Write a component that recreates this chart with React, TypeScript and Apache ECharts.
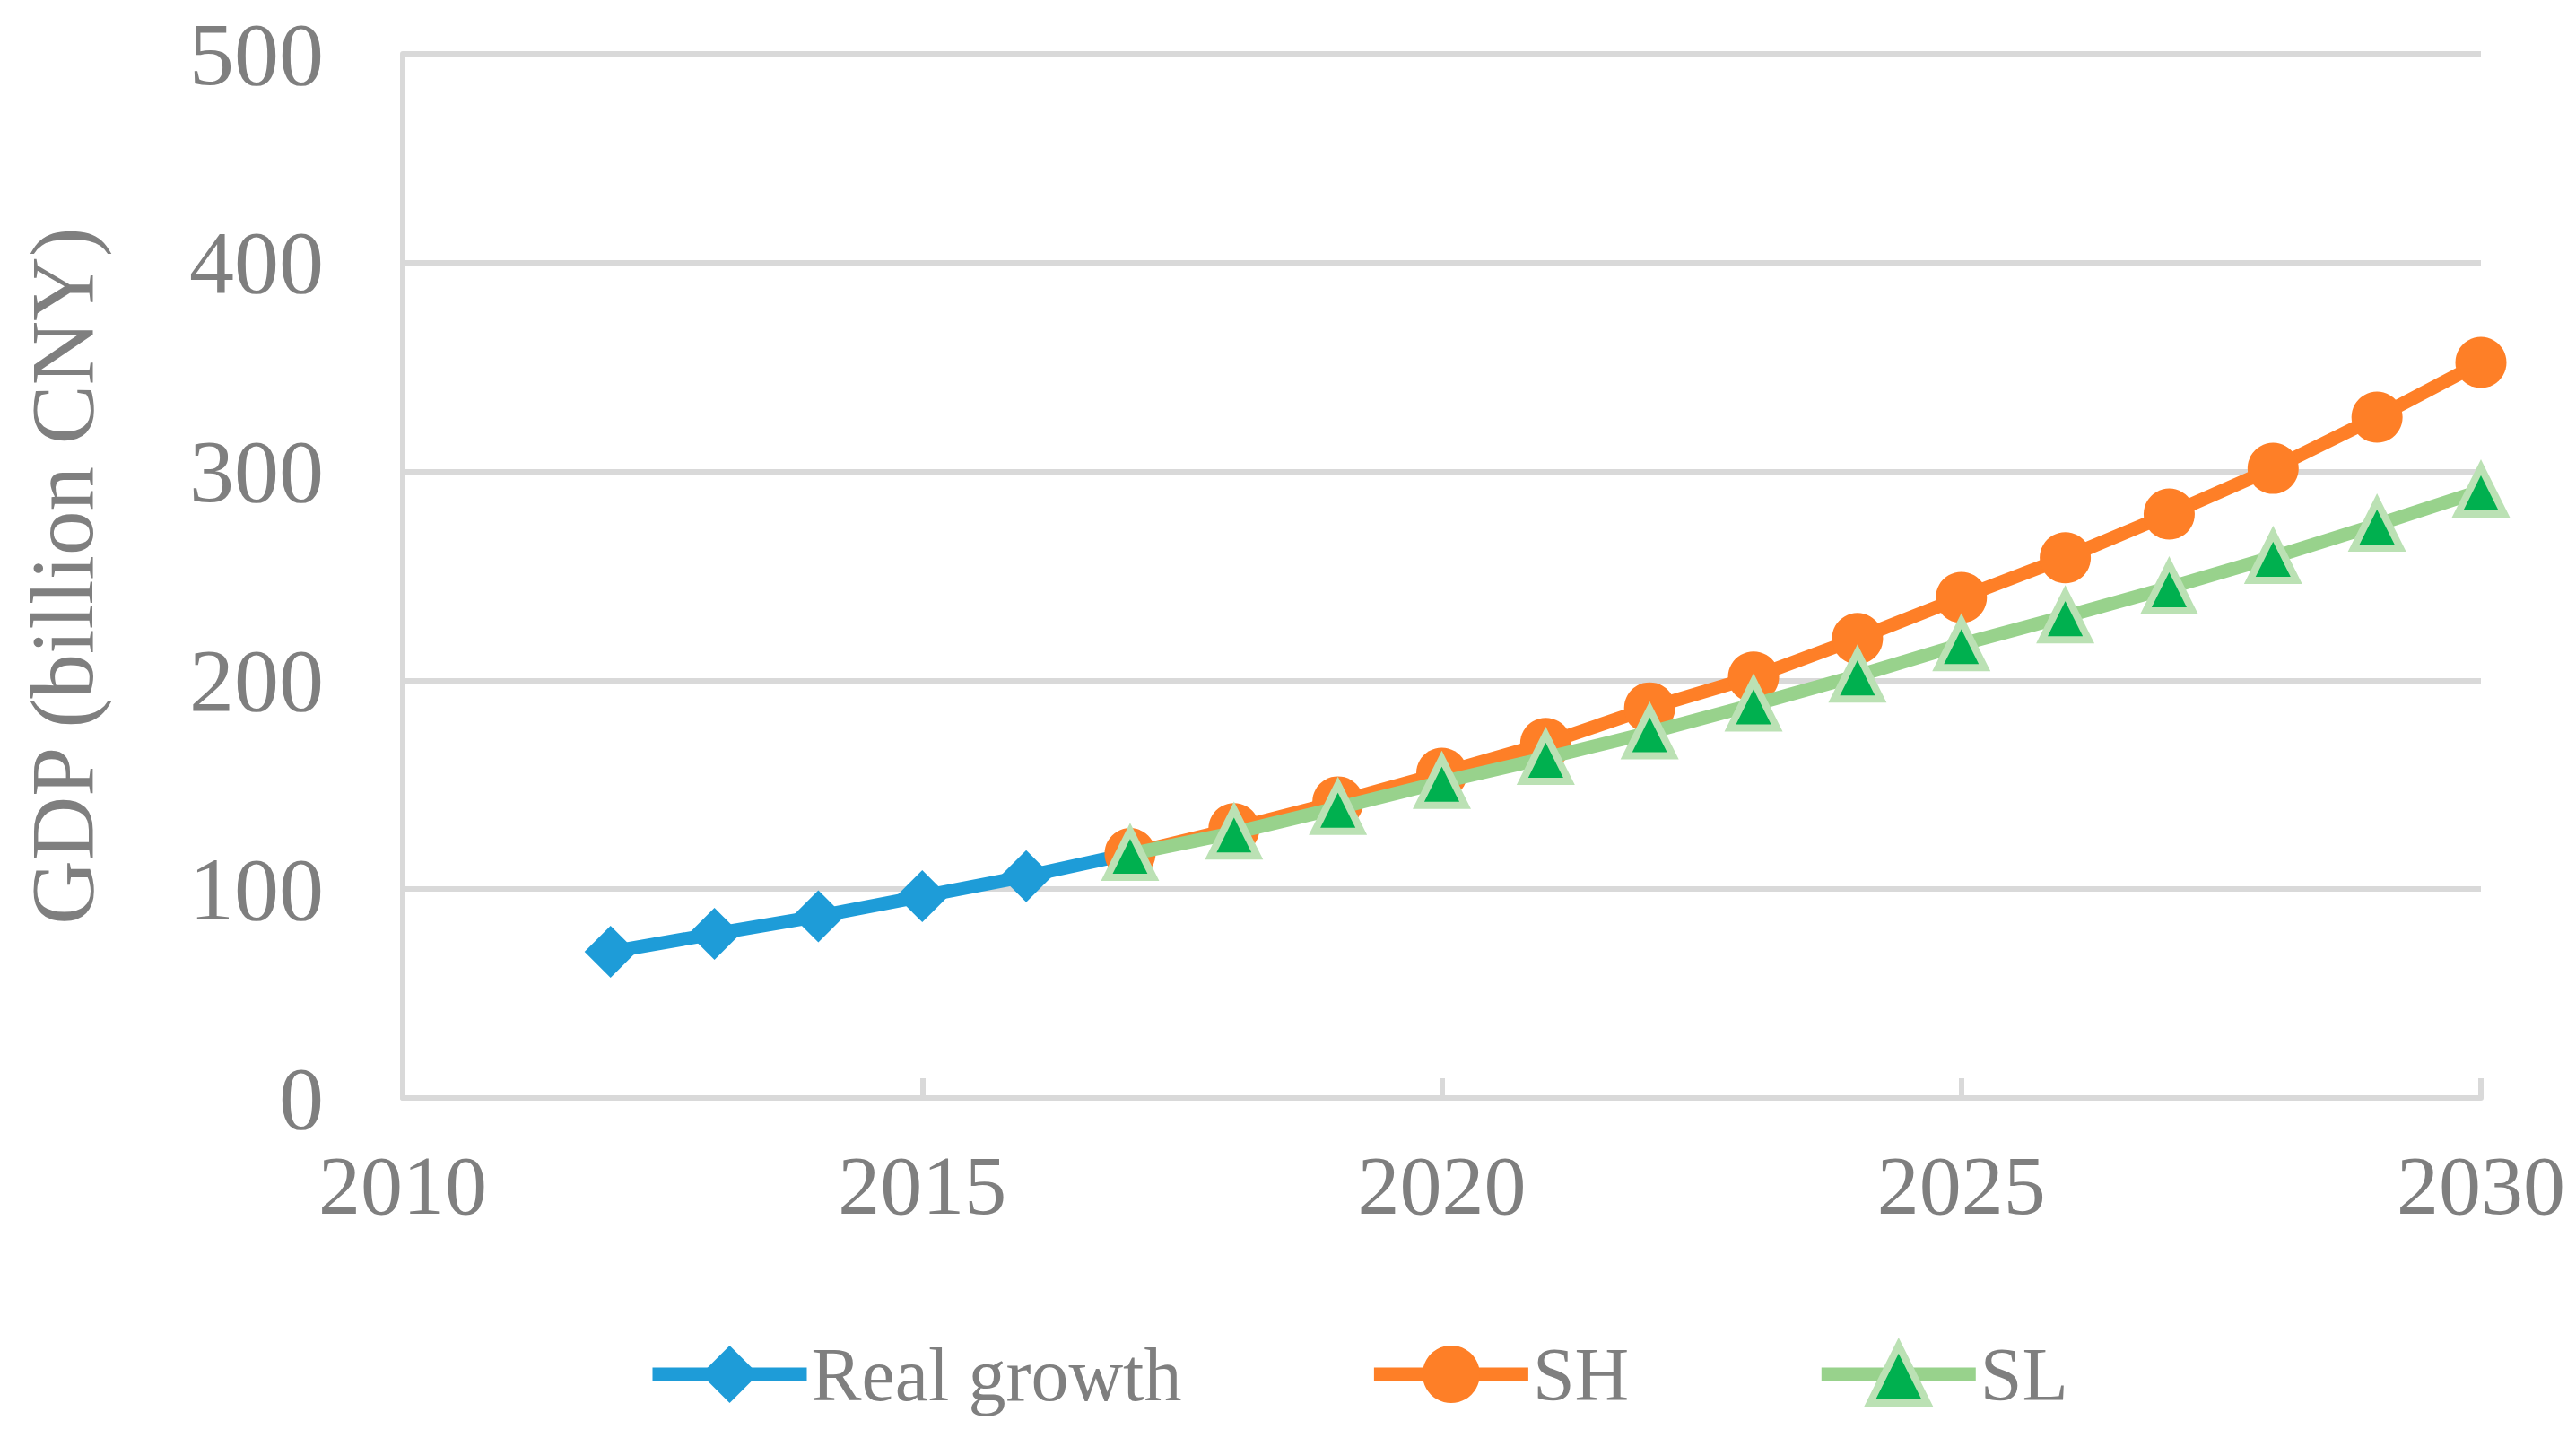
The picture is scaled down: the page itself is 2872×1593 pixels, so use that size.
import React, { useEffect, useRef } from "react";
import * as echarts from "echarts";

const realYears = [2012, 2013, 2014, 2015, 2016, 2017];
const realValues = [70, 78.6, 87, 96.6, 106.2, 117];
const scenarioYears = [2017, 2018, 2019, 2020, 2021, 2022, 2023, 2024, 2025, 2026, 2027, 2028, 2029, 2030];
const shValues = [117, 129, 141.8, 155.5, 169.8, 186.8, 201.6, 220, 239.7, 258.7, 279.6, 301.5, 326, 352.2];
const slValues = [116.8, 127, 138.9, 151.3, 162.8, 175, 188.4, 202.2, 217.2, 230.6, 244.4, 259, 274.5, 290.8];
const seriesNames = ["Real growth", "SH", "SL"];
const yAxisTitle = "GDP (billion CNY)";

const FONT = "'Liberation Serif', 'Times New Roman', serif";
const GRAY = "#7f7f7f";
const GRID = "#d9d9d9";
const BLUE = "#1e9cd8";
const ORANGE = "#fe7f27";
const GREEN_LINE = "#98d28c";
const GREEN_FILL = "#00b04f";
const GREEN_BORDER = "#bbe1b4";

function pairs(xs: number[], ys: number[]) {
  return xs.map((x, i) => [x, ys[i]]);
}

export default function App() {
  const ref = useRef<HTMLDivElement>(null);
  useEffect(() => {
    if (!ref.current) return;
    const chart = echarts.init(ref.current, null, { renderer: "svg" });
    chart.setOption({
      animation: false,
      backgroundColor: "#ffffff",
      grid: { left: 449, right: 106, top: 60, bottom: 369, containLabel: false },
      legend: {
        top: 1490,
        left: 720,
        padding: 0,
        itemWidth: 172,
        itemHeight: 80,
        itemGap: 207,
        textStyle: { fontFamily: FONT, fontSize: 84, color: GRAY },
        data: [
          { name: seriesNames[0], lineStyle: { width: 15, color: BLUE }, itemStyle: { color: BLUE } },
          { name: seriesNames[1], lineStyle: { width: 15, color: ORANGE }, itemStyle: { color: ORANGE } },
          {
            name: seriesNames[2],
            lineStyle: { width: 15, color: GREEN_LINE },
            itemStyle: { color: GREEN_FILL, borderColor: GREEN_BORDER, borderWidth: 8 },
          },
        ],
      },
      xAxis: {
        type: "value",
        min: 2010,
        max: 2030,
        interval: 5,
        axisLine: { show: true, lineStyle: { color: GRID, width: 6 } },
        axisTick: { show: true, inside: true, length: 22, lineStyle: { color: GRID, width: 6 } },
        splitLine: { show: false },
        axisLabel: {
          margin: 50,
          fontFamily: FONT,
          fontSize: 94,
          color: GRAY,
          formatter: (v: number) => String(v),
        },
      },
      yAxis: {
        type: "value",
        min: 0,
        max: 500,
        interval: 100,
        name: yAxisTitle,
        nameLocation: "middle",
        nameRotate: 90,
        nameGap: 330,
        nameTextStyle: { fontFamily: FONT, fontSize: 99, color: GRAY },
        axisLine: { show: true, lineStyle: { color: GRID, width: 6 } },
        axisTick: { show: false },
        splitLine: { show: true, lineStyle: { color: GRID, width: 6 } },
        axisLabel: { margin: 88, fontFamily: FONT, fontSize: 100, color: GRAY },
      },
      series: [
        {
          name: seriesNames[0],
          type: "line",
          data: pairs(realYears, realValues),
          symbol: "diamond",
          symbolSize: 58,
          lineStyle: { color: BLUE, width: 15 },
          itemStyle: { color: BLUE },
          z: 2,
        },
        {
          name: seriesNames[1],
          type: "line",
          data: pairs(scenarioYears, shValues),
          symbol: "circle",
          symbolSize: 57,
          lineStyle: { color: ORANGE, width: 15 },
          itemStyle: { color: ORANGE },
          z: 3,
        },
        {
          name: seriesNames[2],
          type: "line",
          data: pairs(scenarioYears, slValues),
          symbol: "triangle",
          symbolSize: 52,
          lineStyle: { color: GREEN_LINE, width: 15 },
          itemStyle: { color: GREEN_FILL, borderColor: GREEN_BORDER, borderWidth: 8 },
          z: 4,
        },
      ],
    });
    return () => chart.dispose();
  }, []);
  return (
    <div
      ref={ref}
      style={{ position: "absolute", left: 0, top: 0, width: 2872, height: 1593, background: "#fff" }}
    />
  );
}
